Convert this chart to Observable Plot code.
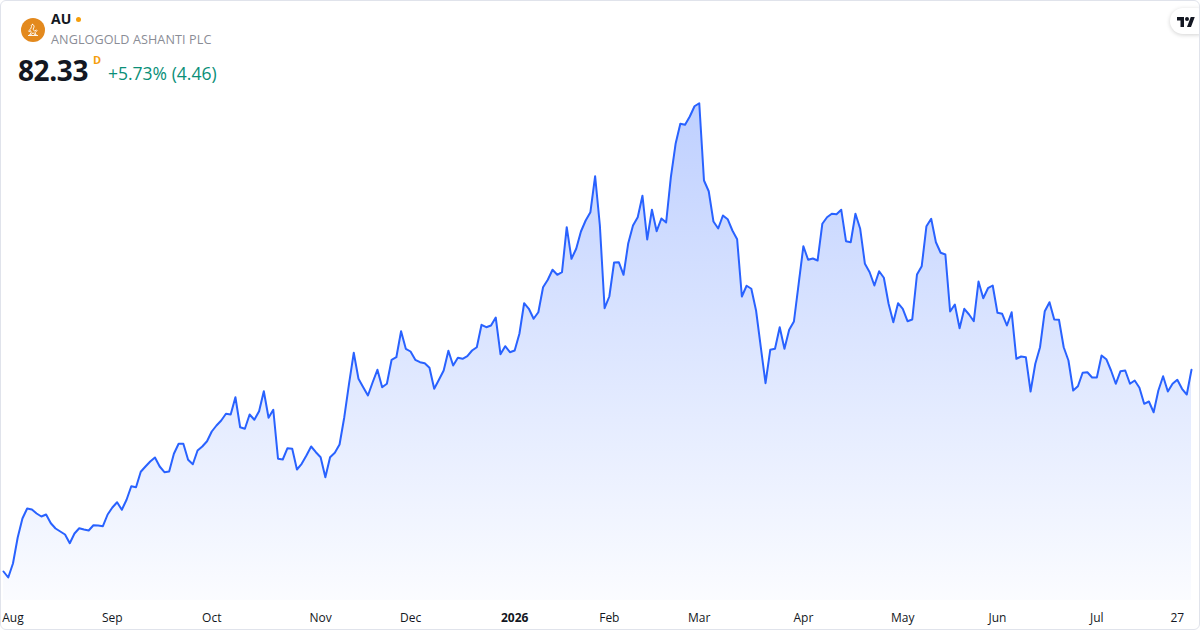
<!DOCTYPE html>
<html><head><meta charset="utf-8">
<script src="https://cdn.jsdelivr.net/npm/d3@7"></script>
<script src="https://cdn.jsdelivr.net/npm/@observablehq/plot@0.6"></script>
<style>
html,body{margin:0;padding:0;background:#fff;}
#wrap{position:relative;width:1200px;height:630px;overflow:hidden;font-family:"Open Sans",sans-serif;}
#chart{position:absolute;left:0;top:0;}
.border{position:absolute;left:0;top:0;width:1200px;height:630px;box-sizing:border-box;border:1px solid #e0e3eb;border-radius:6px;pointer-events:none;}
.logo{position:absolute;left:21px;top:18px;width:24px;height:24px;}
.sym{position:absolute;left:51px;top:9px;font-size:14px;font-weight:700;color:#131722;line-height:20px;}
.dot{position:absolute;left:76px;top:16.5px;width:5px;height:5px;border-radius:50%;background:#f59e0b;}
.name{position:absolute;left:51px;top:31px;font-size:12.6px;color:#8a8d96;line-height:18px;letter-spacing:0.1px;}
.price{position:absolute;left:18px;top:53px;font-size:28px;font-weight:700;color:#131722;line-height:34px;letter-spacing:-0.4px;}
.flag{position:absolute;left:93px;top:53px;font-size:11px;font-weight:700;color:#f59e0b;line-height:14px;}
.chg{position:absolute;left:108px;top:61px;font-size:17.5px;color:#0a8f78;line-height:24px;}
.tv{position:absolute;left:1170px;top:8px;width:40px;height:26px;border-radius:13px;background:#fff;box-shadow:0 1px 4px rgba(0,0,0,0.18);}
.tv svg{position:absolute;left:7px;top:8px;}
</style></head><body>
<div id="wrap">
  <div id="chart"></div>
  <svg class="logo" viewBox="0 0 24 24"><circle cx="12" cy="12" r="12" fill="#e3891d"/><path d="M11 6.5c1.6 0 2.4 1.2 2 2.6l-1 2.4 1.8 1.6 1.6-1.2.6.7-2 2.2 1.2 2.2H14l-1.4-2-1.6.4-1.2 1.6H8.6l1.6-2.6-.6-1.8-1.6 1-.5-.7 2.2-2 .8-2.4c-.6-.8-.1-2.2 1.5-2.2z" fill="none" stroke="#fff" stroke-width="0.9"/><path d="M7 17.5h10" stroke="#fff" stroke-width="0.9"/></svg>
  <div class="sym">AU</div>
  <div class="dot"></div>
  <div class="name">ANGLOGOLD ASHANTI PLC</div>
  <div class="price">82.33</div>
  <div class="flag">D</div>
  <div class="chg">+5.73% (4.46)</div>
  <div class="tv"><svg width="18" height="12" viewBox="0 0 36 24"><path d="M14 22H7V9H0V2h14v20zM28 22h-8l7.5-20h8L28 22z" fill="#131722"/><circle cx="20" cy="6" r="4" fill="#131722"/></svg></div>
  <div class="border"></div>
</div>
<script>
// Daily closes, Jul 30 2025 -> Jul 30 2026 (trading-day index = array position)
const prices = [
  46.02, 44.94, 47.46, 52.14, 55.56, 57.36, 57.18, 56.46, 55.92, 56.28,
  54.71, 53.76, 53.22, 52.68, 51.11, 52.86, 53.81, 53.58, 53.40, 54.35,
  54.30, 54.17, 56.28, 57.54, 58.49, 57.13, 58.93, 61.37, 61.19, 63.97,
  64.92, 65.82, 66.54, 64.92, 63.89, 64.02, 67.21, 69.01, 69.01, 66.13,
  65.33, 67.80, 68.52, 69.47, 71.22, 72.30, 73.20, 74.41, 74.28, 77.39,
  71.99, 71.71, 74.28, 73.33, 74.87, 78.47, 73.69, 75.13, 66.31, 66.18,
  68.21, 68.11, 64.38, 65.41, 66.90, 68.52, 67.49, 66.59, 62.99, 66.59,
  67.39, 68.88, 73.79, 79.81, 85.39, 80.71, 79.19, 77.70, 80.09, 82.33,
  79.19, 79.81, 84.13, 84.59, 89.27, 86.11, 85.62, 84.13, 83.69, 83.51,
  82.69, 78.91, 80.53, 82.20, 85.75, 83.10, 84.49, 84.31, 84.77, 85.80,
  86.39, 90.43, 89.99, 90.30, 91.74, 85.13, 86.57, 85.49, 85.80, 88.81,
  94.31, 93.31, 91.51, 92.69, 97.19, 98.53, 100.33, 99.43, 99.89, 107.99,
  102.31, 104.11, 107.22, 109.20, 110.69, 117.17, 108.30, 93.41, 95.52, 101.64,
  101.69, 99.43, 105.11, 108.30, 109.79, 113.65, 105.78, 111.13, 107.27, 109.56,
  108.84, 116.99, 123.01, 126.61, 126.43, 127.92, 129.77, 130.31, 116.40, 114.47,
  109.02, 107.76, 110.10, 109.43, 107.40, 105.83, 95.52, 97.45, 96.91, 93.00,
  86.39, 79.91, 85.93, 86.11, 89.99, 86.11, 89.53, 91.02, 97.81, 104.57,
  102.13, 102.36, 102.00, 108.61, 109.79, 110.41, 110.33, 111.13, 105.47, 105.29,
  110.41, 107.71, 101.41, 99.89, 97.50, 100.07, 98.89, 94.21, 90.89, 94.31,
  93.31, 91.07, 91.38, 99.48, 100.97, 108.17, 109.51, 105.29, 103.39, 103.08,
  92.82, 94.08, 89.81, 93.31, 92.28, 91.07, 98.22, 95.21, 97.01, 97.50,
  92.59, 92.41, 90.30, 92.69, 84.31, 84.72, 84.59, 78.42, 83.41, 86.39,
  92.87, 94.49, 91.38, 91.33, 86.39, 84.00, 78.60, 79.37, 81.79, 81.89,
  80.94, 80.94, 84.90, 84.23, 82.20, 79.81, 82.07, 82.20, 79.81, 80.40,
  79.09, 76.21, 76.62, 74.69, 78.60, 81.17, 78.42, 79.81, 80.53, 78.91,
  77.87, 82.33
];
const tickIndex  = [2, 23, 44, 67, 86, 108, 128, 147, 169, 190, 210, 231, 248];
const tickLabels = ["Aug", "Sep", "Oct", "Nov", "Dec", "2026", "Feb", "Mar", "Apr", "May", "Jun", "Jul", "27"];
const boldLabels = ["2026"];
const yDomain = [40.8, 148.8];

const data = prices.map((p, i) => ({i, p}));

const gradient = () => {
  const defs = d3.create("svg:defs");
  const g = defs.append("linearGradient").attr("id", "auGrad")
    .attr("x1", 0).attr("x2", 0).attr("y1", 0).attr("y2", 1);
  g.append("stop").attr("offset", "0%").attr("stop-color", "#2962ff").attr("stop-opacity", 0.3);
  g.append("stop").attr("offset", "100%").attr("stop-color", "#2962ff").attr("stop-opacity", 0.02);
  return defs.node();
};

const chart = Plot.plot({
  width: 1200,
  height: 630,
  marginLeft: 3,
  marginRight: 9,
  marginTop: 0,
  marginBottom: 30,
  style: {fontFamily: "'Open Sans', sans-serif", fontSize: "12px", color: "#131722", background: "transparent", overflow: "visible"},
  x: {domain: [0, prices.length - 1], axis: null, label: null},
  y: {domain: yDomain, axis: null, label: null},
  marks: [
    gradient,
    Plot.areaY(data, {x: "i", y1: yDomain[0], y2: "p", fill: "url(#auGrad)"}),
    Plot.lineY(data, {x: "i", y: "p", stroke: "#2962ff", strokeWidth: 2, strokeLinejoin: "round"}),
    Plot.axisX({
      ticks: tickIndex,
      tickFormat: d => tickLabels[tickIndex.indexOf(d)],
      tickSize: 0,
      tickPadding: 13,
      label: null,
      fill: "#131722"
    })
  ]
});
d3.select(chart).selectAll("text").filter(function() { return boldLabels.includes(this.textContent); })
  .attr("font-weight", "bold");
document.getElementById("chart").appendChild(chart);
</script>
</body></html>
